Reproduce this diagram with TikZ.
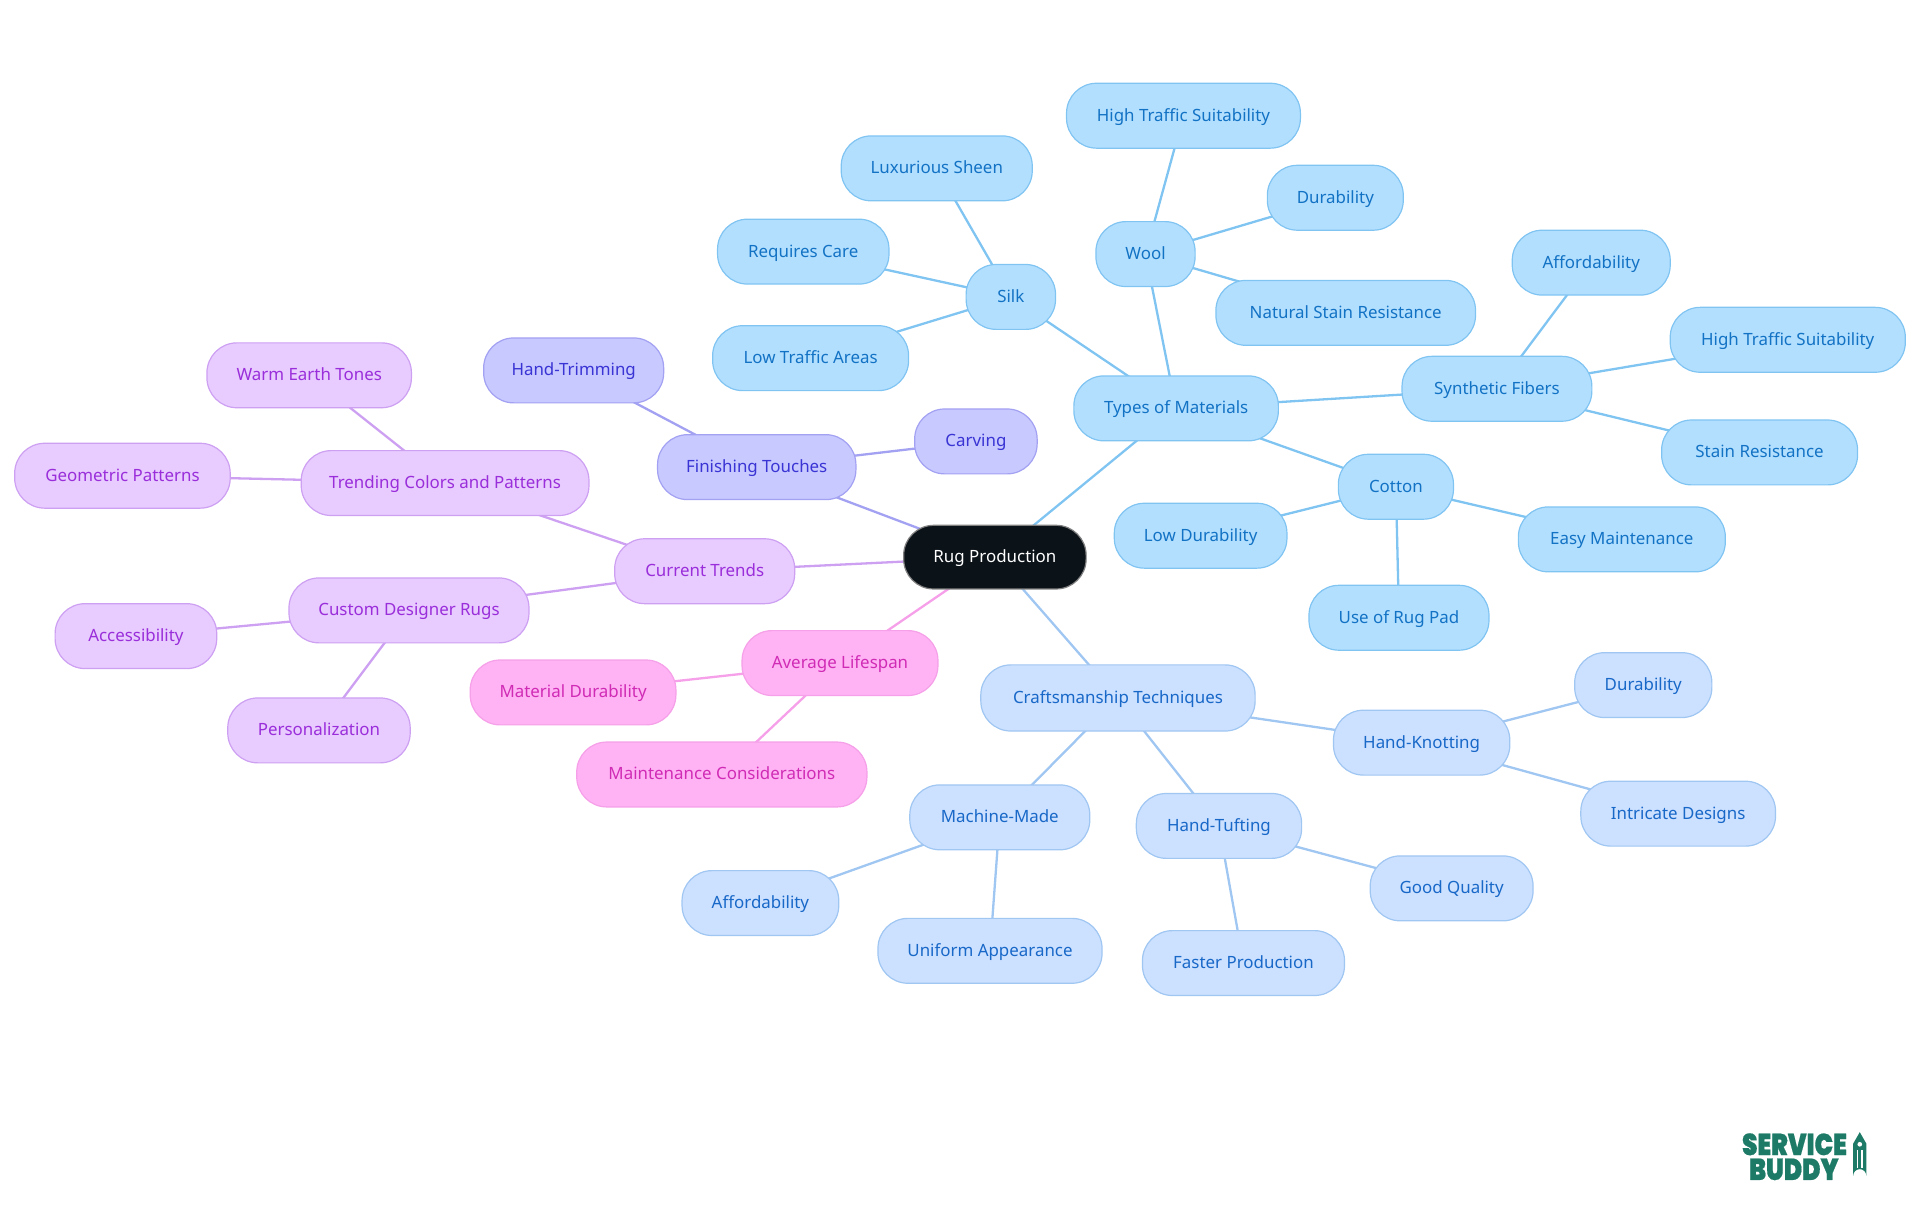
\documentclass[tikz,border=0pt]{standalone}
\usepackage{fontspec}
\setmainfont{Noto Sans}
\newfontfamily\logofont{Poppins}[UprightFont=* Black,FakeBold=0.6]
\usetikzlibrary{backgrounds}
\definecolor{colbf}{HTML}{B3DFFF}\definecolor{colbd}{HTML}{80C4F2}\definecolor{colbt}{HTML}{1272C4}
\definecolor{colcf}{HTML}{CCE0FF}\definecolor{colcd}{HTML}{A0C6F2}\definecolor{colct}{HTML}{1868C8}
\definecolor{colif}{HTML}{C7C9FF}\definecolor{colid}{HTML}{A3A1F2}\definecolor{colit}{HTML}{3A34D4}
\definecolor{colpf}{HTML}{E8CBFF}\definecolor{colpd}{HTML}{CDA0F2}\definecolor{colpt}{HTML}{9A2EDA}
\definecolor{colmf}{HTML}{FFB3F5}\definecolor{colmd}{HTML}{F5A0E8}\definecolor{colmt}{HTML}{D02BB5}
\definecolor{collogo}{HTML}{1C7A66}\definecolor{colroot}{HTML}{0B1218}
\tikzset{
 pill/.style={rectangle,rounded corners=15pt,inner sep=0pt,line width=0.6pt,text height=7.2pt,text depth=1.8pt,font=\fontsize{8.45}{11}\selectfont},
 rootn/.style={pill,fill=colroot,draw=gray,text=white},
 bluen/.style={pill,fill=colbf,draw=colbd,text=colbt},
 craft/.style={pill,fill=colcf,draw=colcd,text=colct},
 indig/.style={pill,fill=colif,draw=colid,text=colit},
 purp/.style={pill,fill=colpf,draw=colpd,text=colpt},
 pinkn/.style={pill,fill=colmf,draw=colmd,text=colmt},
 lnk/.style={line width=1.15pt},
 logotext/.style={inner sep=0pt,text=collogo,font=\logofont\fontsize{12.6}{14}\selectfont},
}
\newcommand{\rn}[7]{%
 \pgfmathsetlengthmacro{\nodew}{(#3-#2)*0.6122pt}%
 \pgfmathsetlengthmacro{\nodeh}{(#5-#4)*0.6122pt}%
 \node[#6,minimum width=\nodew,minimum height=\nodeh] (#1) at ({(#2+#3)/2},{(#4+#5)/2}) {#7};}
\begin{document}
\begin{tikzpicture}[x=0.6122pt,y=-0.6122pt]
\useasboundingbox (0,0) rectangle (1568,992.25);
\rn{root}{738}{887}{429}{481}{rootn}{Rug Production}
\rn{types}{877}{1044}{307}{360}{bluen}{Types of Materials}
\rn{silk}{789}{862}{216}{269}{bluen}{Silk}
\rn{wool}{895}{976}{181}{234}{bluen}{Wool}
\rn{hts}{871}{1062}{68}{121}{bluen}{High Traffic Suitability}
\rn{dur}{1035}{1146}{135}{188}{bluen}{Durability}
\rn{nsr}{993}{1205}{229}{282}{bluen}{Natural Stain Resistance}
\rn{lux}{687}{843}{111}{164}{bluen}{Luxurious Sheen}
\rn{care}{586}{726}{179}{232}{bluen}{Requires Care}
\rn{lta}{582}{742}{266}{319}{bluen}{Low Traffic Areas}
\rn{syn}{1145}{1300}{291}{344}{bluen}{Synthetic Fibers}
\rn{aff}{1235}{1364}{188}{241}{bluen}{Affordability}
\rn{hts2}{1364}{1556}{251}{304}{bluen}{High Traffic Suitability}
\rn{sr}{1357}{1517}{343}{396}{bluen}{Stain Resistance}
\rn{cot}{1093}{1187}{371}{424}{bluen}{Cotton}
\rn{ld}{910}{1051}{411}{464}{bluen}{Low Durability}
\rn{em}{1240}{1409}{414}{467}{bluen}{Easy Maintenance}
\rn{urp}{1069}{1216}{478}{531}{bluen}{Use of Rug Pad}
\rn{craftn}{801}{1025}{543}{597}{craft}{Craftsmanship Techniques}
\rn{hk}{1089}{1233}{580}{633}{craft}{Hand-Knotting}
\rn{dur2}{1286}{1398}{533}{586}{craft}{Durability}
\rn{idn}{1291}{1450}{638}{691}{craft}{Intricate Designs}
\rn{ht}{928}{1063}{648}{701}{craft}{Hand-Tufting}
\rn{gq}{1119}{1252}{699}{752}{craft}{Good Quality}
\rn{fp}{933}{1098}{760}{813}{craft}{Faster Production}
\rn{mm}{743}{890}{641}{694}{craft}{Machine-Made}
\rn{aff2}{557}{685}{711}{764}{craft}{Affordability}
\rn{ua}{717}{900}{750}{803}{craft}{Uniform Appearance}
\rn{al}{606}{766}{515}{568}{pinkn}{Average Lifespan}
\rn{mdu}{384}{552}{539}{592}{pinkn}{Material Durability}
\rn{mc}{471}{708}{606}{659}{pinkn}{Maintenance Considerations}
\rn{ctr}{502}{649}{440}{493}{purp}{Current Trends}
\rn{tcp}{246}{481}{368}{421}{purp}{Trending Colors and Patterns}
\rn{wet}{169}{336}{280}{333}{purp}{Warm Earth Tones}
\rn{gp}{12}{188}{362}{415}{purp}{Geometric Patterns}
\rn{cdr}{236}{432}{472}{525}{purp}{Custom Designer Rugs}
\rn{acc}{45}{177}{493}{546}{purp}{Accessibility}
\rn{per}{186}{335}{570}{623}{purp}{Personalization}
\rn{ft}{537}{699}{355}{408}{indig}{Finishing Touches}
\rn{htr}{395}{542}{276}{329}{indig}{Hand-Trimming}
\rn{carv}{747}{847}{334}{387}{indig}{Carving}
\begin{scope}[on background layer]
\foreach \a/\b in {root/types,types/silk,types/wool,wool/hts,wool/dur,wool/nsr,silk/lux,silk/care,silk/lta,types/syn,syn/aff,syn/hts2,syn/sr,types/cot,cot/ld,cot/em,cot/urp}
  \draw[lnk,colbd] (\a.center) -- (\b.center);
\foreach \a/\b in {root/craftn,craftn/hk,hk/dur2,hk/idn,craftn/ht,ht/gq,ht/fp,craftn/mm,mm/aff2,mm/ua}
  \draw[lnk,colcd] (\a.center) -- (\b.center);
\foreach \a/\b in {root/al,al/mdu,al/mc}
  \draw[lnk,colmd] (\a.center) -- (\b.center);
\foreach \a/\b in {root/ctr,ctr/tcp,tcp/wet,tcp/gp,ctr/cdr,cdr/acc,cdr/per}
  \draw[lnk,colpd] (\a.center) -- (\b.center);
\foreach \a/\b in {root/ft,ft/htr,ft/carv}
  \draw[lnk,colid] (\a.center) -- (\b.center);
\end{scope}
\node[logotext] (logoa) at (1465.5,934.5) {\scalebox{0.98}[1.2]{SERVICE}};
\node[logotext] (logob) at (1465,955) {\scalebox{0.98}[1.2]{BUDDY}};
\fill[collogo] (1518.8,924.6) -- (1524.2,934) -- (1524.2,960.2) arc[start angle=0,end angle=-180,radius=5.4] -- (1513.4,934) -- cycle;
\fill[white] (1516.2,939) rectangle (1517.5,954);
\fill[white] (1520.1,939) rectangle (1521.4,954);
\fill[white] (1514.8,956.8) rectangle (1522.8,958.4);
\fill[white] (1518.8,934.5) circle (1.9);
\end{tikzpicture}
\end{document}
